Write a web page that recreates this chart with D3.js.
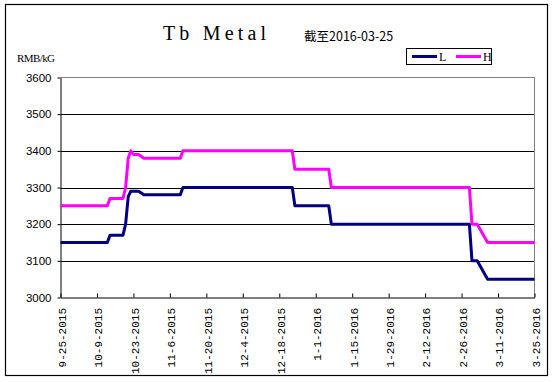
<!DOCTYPE html>
<html><head><meta charset="utf-8">
<script src="https://cdn.jsdelivr.net/npm/d3@7"></script>
<style>body{margin:0;background:#fff}svg{display:block}</style>
</head><body>
<svg id="c" width="554" height="382"></svg>
<script>
const title = "Tb Metal";
const subtitle = "截至2016-03-25";
const unitLabel = "RMB/kG";
const seriesNames = ["L", "H"];
const dates = ["2015-09-25","2015-10-13","2015-10-14","2015-10-19","2015-10-20","2015-10-21","2015-10-22","2015-10-23","2015-10-25","2015-10-27","2015-11-10","2015-11-11","2015-12-23","2015-12-24","2016-01-06","2016-01-07","2016-02-29","2016-03-01","2016-03-03","2016-03-07","2016-03-25"];
const valuesL = [3150,3150,3170,3170,3200,3275,3290,3290,3290,3280,3280,3300,3300,3250,3250,3200,3200,3100,3100,3050,3050];
const valuesH = [3250,3250,3270,3270,3300,3380,3400,3390,3390,3380,3380,3400,3400,3350,3350,3300,3300,3200,3200,3150,3150];
const xTickLabels = ["9-25-2015","10-9-2015","10-23-2015","11-6-2015","11-20-2015","12-4-2015","12-18-2015","1-1-2016","1-15-2016","1-29-2016","2-12-2016","2-26-2016","3-11-2016","3-25-2016"];
const yTicks = [3000,3100,3200,3300,3400,3500,3600];
const colors = ["#000080", "#ff00ff"];

const svg = d3.select("#c");
const parse = d3.utcParse("%Y-%m-%d");
const parseTick = d3.utcParse("%m-%d-%Y");
const tickDates = xTickLabels.map(parseTick);
const L = 60.5, R = 534.5, T = 77.5, B = 297.5;

const x = d3.scaleUtc().domain([tickDates[0], tickDates[tickDates.length-1]]).range([L, R]);
const y = d3.scaleLinear().domain([3000, 3600]).range([B, T]);

// outer border
svg.append("rect").attr("x",5.5).attr("y",4.5).attr("width",542).attr("height",371)
  .attr("fill","none").attr("stroke","#000").attr("stroke-width",1.2);

// gridlines
svg.append("g").selectAll("line").data(yTicks.filter(v => v > 3000 && v < 3600)).join("line")
  .attr("x1", L).attr("x2", R).attr("y1", d => Math.round(y(d)) + 0.5).attr("y2", d => Math.round(y(d)) + 0.5)
  .attr("stroke", "#000").attr("stroke-width", 1);

// plot area border top/right
svg.append("path").attr("d", `M${L},${T}H${R}V${B}`).attr("fill","none").attr("stroke","#808080");

// y axis
const yAxis = svg.append("g").attr("transform", `translate(${L},0)`)
  .call(d3.axisLeft(y).tickValues(yTicks).tickSize(3).tickSizeOuter(0).tickPadding(6).tickFormat(d3.format("d")));
yAxis.select(".domain").attr("stroke", "#000");
yAxis.selectAll("line").attr("stroke", "#000");
yAxis.selectAll("text").attr("font-family", "'Liberation Sans', Arial, sans-serif").attr("font-size", "11.5px").attr("fill", "#000");

// x axis
const xAxis = svg.append("g").attr("transform", `translate(0,${B})`)
  .call(d3.axisBottom(x).tickValues(tickDates).tickSize(-4).tickSizeOuter(0).tickFormat((d, i) => xTickLabels[i]));
xAxis.select(".domain").attr("stroke", "#000");
xAxis.selectAll("line").attr("stroke", "#000");
xAxis.selectAll("text")
  .attr("transform", "rotate(-90)")
  .attr("x", -10.5).attr("y", 1).attr("dy", "0.35em")
  .attr("text-anchor", "end")
  .attr("font-family", "'Liberation Mono', monospace").attr("font-size", "11px").attr("fill", "#000");

// lines
const series = [valuesL, valuesH];
const line = d3.line().x(d => x(d.date)).y(d => y(d.v));
series.forEach((vals, k) => {
  const pts = dates.map((s, i) => ({ date: parse(s), v: vals[i] }));
  svg.append("path").datum(pts).attr("d", line).attr("fill", "none")
    .attr("stroke", colors[k]).attr("stroke-width", 3).attr("stroke-linejoin", "round");
});

// title
svg.append("text").attr("x", 163).attr("y", 40)
  .attr("font-family", "'Liberation Serif', 'Times New Roman', serif").attr("font-size", "20px")
  .attr("textLength", 103).attr("lengthAdjust", "spacing").text(title);
svg.append("text").attr("x", 304).attr("y", 41)
  .attr("font-family", "'Noto Sans CJK SC', sans-serif").attr("font-size", "12.5px").text(subtitle);
svg.append("text").attr("x", 17).attr("y", 62)
  .attr("font-family", "'Liberation Serif', serif").attr("font-size", "11px").attr("textLength", 38).text(unitLabel);

// legend
const lg = svg.append("g");
lg.append("rect").attr("x", 406.5).attr("y", 48.5).attr("width", 85).attr("height", 16)
  .attr("fill", "#fff").attr("stroke", "#000");
const lx = [412, 456];
seriesNames.forEach((n, k) => {
  lg.append("line").attr("x1", lx[k]).attr("x2", lx[k] + 25).attr("y1", 56.5).attr("y2", 56.5)
    .attr("stroke", colors[k]).attr("stroke-width", 3);
  lg.append("text").attr("x", lx[k] + 27).attr("y", 61)
    .attr("font-family", "'Liberation Serif', serif").attr("font-size", "12px").text(n);
});
</script>
</body></html>
